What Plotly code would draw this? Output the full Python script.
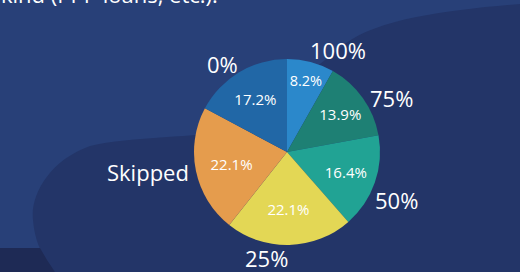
import math
import plotly.graph_objects as go

labels = ["100%", "75%", "50%", "25%", "Skipped", "0%"]
values = [8.2, 13.9, 16.4, 22.1, 22.1, 17.2]
colors = ["#2B88CB", "#1E8074", "#21A394", "#E3D755", "#E59C4D", "#2167A6"]
title_tail = "kind (PPP loans, etc.)."

# label placement style (angular nudge in degrees, radial distance in px)
label_nudge = [11.8, 8.2, 4.4, 12.6, 3.6, -5.4]
label_dist = [114, 118, 120, 108, 140, 109]

W, H = 520, 272
FONT = "Open Sans"
LIGHT, DARK, DARKEST = "#284078", "#233568", "#1E2A55"


def P(x, y):
    return f"{x / W:.5f},{1 - y / H:.5f}"


light = ("M " + P(0, 0) + " L " + P(520, 0) + " L " + P(520, 4)
         + " C " + P(450, 10) + " " + P(380, 18) + " " + P(345, 44)
         + " L " + P(300, 80) + " L " + P(230, 130)
         + " C " + P(200, 138) + " " + P(130, 136) + " " + P(90, 146)
         + " C " + P(50, 160) + " " + P(30, 195) + " " + P(33, 220)
         + " C " + P(35, 245) + " " + P(45, 260) + " " + P(55, 272)
         + " L " + P(0, 272) + " Z")
strip = ("M " + P(0, 248) + " L " + P(40, 248) + " L " + P(47, 260)
         + " L " + P(55, 272) + " L " + P(0, 272) + " Z")

cx, cy, r = 287, 152, 93
dom_x = [(cx - r) / W, (cx + r) / W]
dom_y = [1 - (cy + r) / H, 1 - (cy - r) / H]

fig = go.Figure()
fig.add_trace(go.Pie(
    labels=labels, values=values, sort=False, direction="clockwise", rotation=0,
    marker=dict(colors=colors, line=dict(width=0)),
    texttemplate="%{value:.1f}%", textposition="inside",
    insidetextorientation="horizontal",
    textfont=dict(family=FONT, size=15, color="white"),
    domain=dict(x=dom_x, y=dom_y), showlegend=False, hoverinfo="skip",
))

total = sum(values)
annotations = [dict(text=title_tail, xref="paper", yref="paper", x=-0.002, y=1 - 11 / H,
                    xanchor="left", yanchor="bottom", showarrow=False,
                    font=dict(family=FONT, size=22, color="white"))]
cum = 0.0
for lab, v, nd, d in zip(labels, values, label_nudge, label_dist):
    mid = (cum + v / 2) / total * 360.0 + nd
    cum += v
    a = math.radians(mid)
    px = cx + d * math.sin(a)
    py = cy - d * math.cos(a)
    annotations.append(dict(text=lab, xref="paper", yref="paper", x=px / W, y=1 - py / H,
                            xanchor="center", yanchor="middle", showarrow=False,
                            font=dict(family=FONT, size=22, color="white", weight=500)))

fig.update_layout(
    width=W, height=H, autosize=False, margin=dict(l=0, r=0, t=0, b=0, pad=0),
    paper_bgcolor=DARK, plot_bgcolor=DARK,
    shapes=[
        dict(type="path", xref="paper", yref="paper", path=light,
             fillcolor=LIGHT, line=dict(width=0), layer="below"),
        dict(type="path", xref="paper", yref="paper", path=strip,
             fillcolor=DARKEST, line=dict(width=0), layer="below"),
    ],
    annotations=annotations,
)
fig.write_html("out.html", config={"responsive": False, "displayModeBar": False})
